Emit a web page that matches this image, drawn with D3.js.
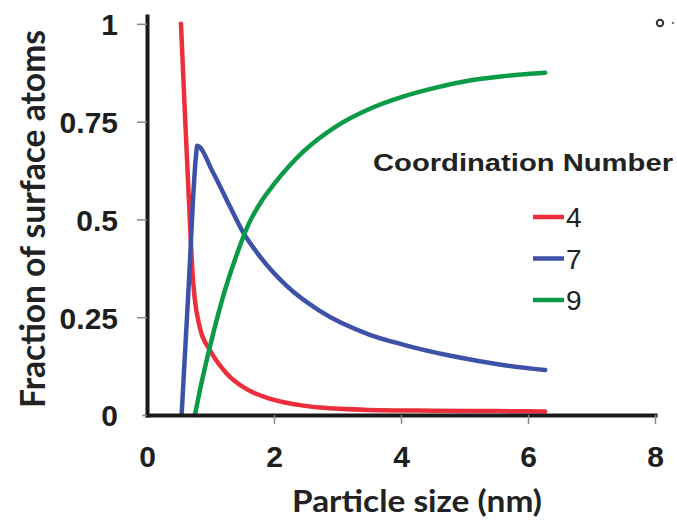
<!DOCTYPE html>
<html>
<head>
<meta charset="utf-8">
<script src="https://cdn.jsdelivr.net/npm/d3@7"></script>
<style>
    html, body { margin: 0; padding: 0; background: #fff; }
    svg { display: block; }
</style>
</head>
<body>
<svg id="chart" width="677" height="520"></svg>
<script>
// Data: particle size (nm) vs fraction of surface atoms
const sizeCN4 = [0.535, 0.6, 0.68, 0.71, 0.75, 0.83, 0.99, 1.25, 1.57, 1.93, 2.46, 2.72, 3.5, 4.5, 5.5, 6.27];
const fracCN4 = [1.0, 0.76, 0.48, 0.38, 0.3, 0.225, 0.166, 0.107, 0.066, 0.042, 0.024, 0.019, 0.013, 0.011, 0.01, 0.009];

const sizeCN7 = [0.545, 0.65, 0.77, 0.79, 1.04, 1.3, 1.51, 1.78, 2.2, 2.72, 3.51, 4.03, 4.82, 5.6, 6.27];
const fracCN7 = [0, 0.31, 0.66, 0.688, 0.62, 0.535, 0.468, 0.405, 0.33, 0.266, 0.205, 0.18, 0.15, 0.128, 0.115];

const sizeCN9 = [0.755, 0.85, 0.99, 1.2, 1.4, 1.6, 1.8, 2.0, 2.46, 2.98, 3.51, 4.03, 4.55, 5.08, 5.6, 6.27];
const fracCN9 = [0, 0.076, 0.174, 0.304, 0.404, 0.488, 0.546, 0.59, 0.673, 0.738, 0.783, 0.814, 0.837, 0.855, 0.866, 0.875];

const seriesNames = ["4", "7", "9"];
const seriesColors = ["#ec2f3b", "#3e51a8", "#0b9a45"];
const xTicks = [0, 2, 4, 6, 8];
const yTicks = [0, 0.25, 0.5, 0.75, 1];
const yTickLabels = ["0", "0.25", "0.5", "0.75", "1"];

// Zip x/y arrays into point objects
function toPoints(xs, ys) {
    return xs.map((x, i) => ({ x: x, y: ys[i] }));
}

const series = [
    toPoints(sizeCN4, fracCN4),
    toPoints(sizeCN7, fracCN7),
    toPoints(sizeCN9, fracCN9)
];

const svg = d3.select("#chart");

const x = d3.scaleLinear().domain([0, 8]).range([147, 655]);
const y = d3.scaleLinear().domain([0, 1.02]).range([415, 16]);

const tickFont = "'Liberation Sans', Arial, sans-serif";
const titleFont = "Lato, 'Open Sans', sans-serif";

// Axes
function drawAxes() {
    const xAxis = svg.append("g")
        .attr("transform", `translate(0,${y(0)})`)
        .call(d3.axisBottom(x).tickValues(xTicks).tickSize(9).tickSizeOuter(0));

    const yAxis = svg.append("g")
        .attr("transform", `translate(${x(0)},0)`)
        .call(d3.axisLeft(y).tickValues(yTicks).tickSize(10).tickSizeOuter(0)
            .tickFormat((d, i) => yTickLabels[i]));

    [xAxis, yAxis].forEach(g => {
        g.select(".domain")
            .attr("stroke", "#1a1a1a")
            .attr("stroke-width", 4)
            .attr("stroke-linecap", "square");
        g.selectAll(".tick line")
            .attr("stroke", "#8a8a8a")
            .attr("stroke-width", 1.5);
        g.selectAll(".tick text")
            .attr("fill", "#1e1e1e")
            .style("font-family", tickFont)
            .style("font-weight", "bold")
            .style("font-size", "30px");
    });

    xAxis.selectAll(".tick text")
        .attr("y", 52)
        .attr("dy", 0);

    yAxis.selectAll(".tick text")
        .attr("x", -29)
        .attr("dy", "0.36em");

    // hide the zero tick on the x axis (it sits on the y axis)
    xAxis.selectAll(".tick line").filter(d => d === 0).remove();
    yAxis.selectAll(".tick line").filter(d => d === 0).attr("x2", -5);
}

// Axis titles
function drawTitles() {
    svg.append("text")
        .attr("x", 417)
        .attr("y", 512)
        .attr("text-anchor", "middle")
        .attr("textLength", 250)
        .attr("lengthAdjust", "spacingAndGlyphs")
        .attr("fill", "#222")
        .style("font-family", titleFont)
        .style("font-weight", "bold")
        .style("font-size", "31px")
        .text("Particle size (nm)");

    svg.append("text")
        .attr("transform", "translate(45,219) rotate(-90)")
        .attr("text-anchor", "middle")
        .attr("textLength", 378)
        .attr("lengthAdjust", "spacingAndGlyphs")
        .attr("fill", "#222")
        .style("font-family", titleFont)
        .style("font-weight", "bold")
        .style("font-size", "34px")
        .text("Fraction of surface atoms");
}

// Curves
function drawLines() {
    const line = d3.line()
        .x(d => x(d.x))
        .y(d => y(d.y))
        .curve(d3.curveMonotoneX);

    svg.append("g")
        .selectAll("path")
        .data(series)
        .join("path")
        .attr("d", line)
        .attr("fill", "none")
        .attr("stroke", (d, i) => seriesColors[i])
        .attr("stroke-width", 4.5)
        .attr("stroke-linecap", "round")
        .attr("stroke-linejoin", "round");
}

// Legend
function drawLegend() {
    svg.append("text")
        .attr("x", 373)
        .attr("y", 171)
        .attr("textLength", 300)
        .attr("lengthAdjust", "spacingAndGlyphs")
        .attr("fill", "#222")
        .style("font-family", tickFont)
        .style("font-weight", "bold")
        .style("font-size", "24px")
        .text("Coordination Number");

    const rows = svg.append("g")
        .selectAll("g")
        .data(seriesNames)
        .join("g")
        .attr("transform", (d, i) => `translate(533,${217 + i * 41.5})`);

    rows.append("line")
        .attr("x1", 0)
        .attr("x2", 31)
        .attr("stroke", (d, i) => seriesColors[i])
        .attr("stroke-width", 4.5);

    rows.append("text")
        .attr("x", 33)
        .attr("dy", "0.36em")
        .attr("fill", "#222")
        .style("font-family", tickFont)
        .style("font-size", "28px")
        .text(d => d);
}

// little marks in the top-right corner of the original figure
function drawCornerMarks() {
    svg.append("circle")
        .attr("cx", 660).attr("cy", 23).attr("r", 3.2)
        .attr("fill", "none").attr("stroke", "#333").attr("stroke-width", 2);
    svg.append("circle")
        .attr("cx", 673).attr("cy", 23).attr("r", 1.2)
        .attr("fill", "#777");
}

drawLines();
drawAxes();
drawTitles();
drawLegend();
drawCornerMarks();
</script>
</body>
</html>
